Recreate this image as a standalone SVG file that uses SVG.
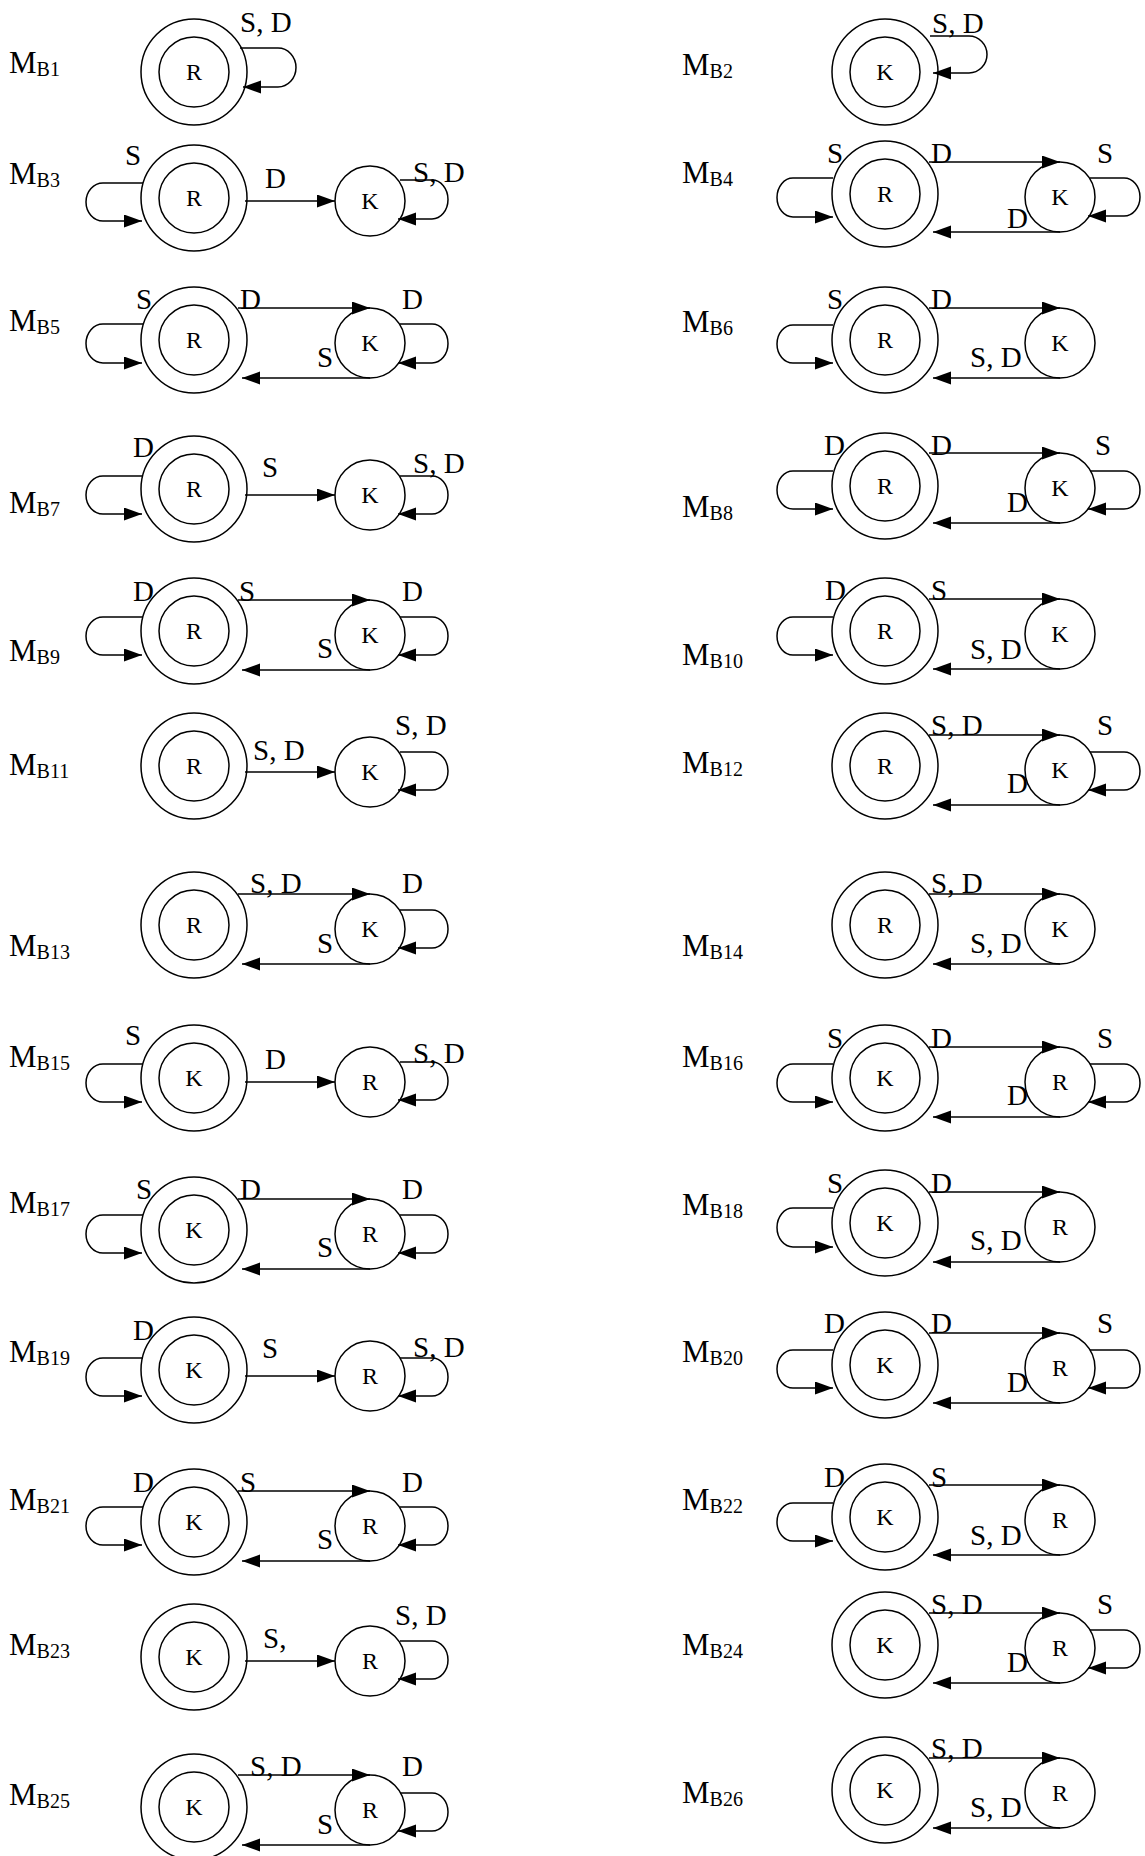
<svg xmlns="http://www.w3.org/2000/svg" width="1145" height="1856" viewBox="0 0 1145 1856">
<defs>
<marker id="ah" markerUnits="userSpaceOnUse" markerWidth="19" markerHeight="14" refX="18" refY="6.5" orient="auto"><path d="M0,0 L18,6.5 L0,13 z" fill="#000"/></marker>
<style>
.o{fill:none;stroke:#000;stroke-width:1.5}
.e{fill:none;stroke:#000;stroke-width:1.5;marker-end:url(#ah)}
text{font-family:"Liberation Serif","Times New Roman",serif;fill:#000}
.n{font-size:24px;text-anchor:middle}
.l{font-size:29px}
.m{font-size:31px}
.s{font-size:20px}
</style>
</defs>
<rect width="1145" height="1856" fill="#fff"/>

<g id="titles">
<text class="m" x="9" y="73">M<tspan class="s" dy="3">B1</tspan></text>
<text class="m" x="9" y="184">M<tspan class="s" dy="3">B3</tspan></text>
<text class="m" x="9" y="331">M<tspan class="s" dy="3">B5</tspan></text>
<text class="m" x="9" y="513">M<tspan class="s" dy="3">B7</tspan></text>
<text class="m" x="9" y="661">M<tspan class="s" dy="3">B9</tspan></text>
<text class="m" x="9" y="775">M<tspan class="s" dy="3">B11</tspan></text>
<text class="m" x="9" y="956">M<tspan class="s" dy="3">B13</tspan></text>
<text class="m" x="9" y="1067">M<tspan class="s" dy="3">B15</tspan></text>
<text class="m" x="9" y="1213">M<tspan class="s" dy="3">B17</tspan></text>
<text class="m" x="9" y="1362">M<tspan class="s" dy="3">B19</tspan></text>
<text class="m" x="9" y="1510">M<tspan class="s" dy="3">B21</tspan></text>
<text class="m" x="9" y="1655">M<tspan class="s" dy="3">B23</tspan></text>
<text class="m" x="9" y="1805">M<tspan class="s" dy="3">B25</tspan></text>
<text class="m" x="682" y="75">M<tspan class="s" dy="3">B2</tspan></text>
<text class="m" x="682" y="183">M<tspan class="s" dy="3">B4</tspan></text>
<text class="m" x="682" y="332">M<tspan class="s" dy="3">B6</tspan></text>
<text class="m" x="682" y="517">M<tspan class="s" dy="3">B8</tspan></text>
<text class="m" x="682" y="665">M<tspan class="s" dy="3">B10</tspan></text>
<text class="m" x="682" y="773">M<tspan class="s" dy="3">B12</tspan></text>
<text class="m" x="682" y="956">M<tspan class="s" dy="3">B14</tspan></text>
<text class="m" x="682" y="1067">M<tspan class="s" dy="3">B16</tspan></text>
<text class="m" x="682" y="1215">M<tspan class="s" dy="3">B18</tspan></text>
<text class="m" x="682" y="1362">M<tspan class="s" dy="3">B20</tspan></text>
<text class="m" x="682" y="1510">M<tspan class="s" dy="3">B22</tspan></text>
<text class="m" x="682" y="1655">M<tspan class="s" dy="3">B24</tspan></text>
<text class="m" x="682" y="1803">M<tspan class="s" dy="3">B26</tspan></text>
</g>

<g id="nodes">
<g id="MB1-R"><circle class="o" cx="194" cy="72" r="53"/><circle class="o" cx="194" cy="72" r="35"/><text class="n" x="194" y="80">R</text></g>
<g id="MB3-R"><circle class="o" cx="194" cy="198" r="53"/><circle class="o" cx="194" cy="198" r="35"/><text class="n" x="194" y="206">R</text></g>
<g id="MB3-K"><circle class="o" cx="370" cy="201" r="35"/><text class="n" x="370" y="209">K</text></g>
<g id="MB5-R"><circle class="o" cx="194" cy="340" r="53"/><circle class="o" cx="194" cy="340" r="35"/><text class="n" x="194" y="348">R</text></g>
<g id="MB5-K"><circle class="o" cx="370" cy="343" r="35"/><text class="n" x="370" y="351">K</text></g>
<g id="MB7-R"><circle class="o" cx="194" cy="489" r="53"/><circle class="o" cx="194" cy="489" r="35"/><text class="n" x="194" y="497">R</text></g>
<g id="MB7-K"><circle class="o" cx="370" cy="495" r="35"/><text class="n" x="370" y="503">K</text></g>
<g id="MB9-R"><circle class="o" cx="194" cy="631" r="53"/><circle class="o" cx="194" cy="631" r="35"/><text class="n" x="194" y="639">R</text></g>
<g id="MB9-K"><circle class="o" cx="370" cy="635" r="35"/><text class="n" x="370" y="643">K</text></g>
<g id="MB11-R"><circle class="o" cx="194" cy="766" r="53"/><circle class="o" cx="194" cy="766" r="35"/><text class="n" x="194" y="774">R</text></g>
<g id="MB11-K"><circle class="o" cx="370" cy="772" r="35"/><text class="n" x="370" y="780">K</text></g>
<g id="MB13-R"><circle class="o" cx="194" cy="925" r="53"/><circle class="o" cx="194" cy="925" r="35"/><text class="n" x="194" y="933">R</text></g>
<g id="MB13-K"><circle class="o" cx="370" cy="929" r="35"/><text class="n" x="370" y="937">K</text></g>
<g id="MB15-K"><circle class="o" cx="194" cy="1078" r="53"/><circle class="o" cx="194" cy="1078" r="35"/><text class="n" x="194" y="1086">K</text></g>
<g id="MB15-R"><circle class="o" cx="370" cy="1082" r="35"/><text class="n" x="370" y="1090">R</text></g>
<g id="MB17-K"><circle class="o" cx="194" cy="1230" r="53"/><circle class="o" cx="194" cy="1230" r="35"/><text class="n" x="194" y="1238">K</text></g>
<g id="MB17-R"><circle class="o" cx="370" cy="1234" r="35"/><text class="n" x="370" y="1242">R</text></g>
<g id="MB19-K"><circle class="o" cx="194" cy="1370" r="53"/><circle class="o" cx="194" cy="1370" r="35"/><text class="n" x="194" y="1378">K</text></g>
<g id="MB19-R"><circle class="o" cx="370" cy="1376" r="35"/><text class="n" x="370" y="1384">R</text></g>
<g id="MB21-K"><circle class="o" cx="194" cy="1522" r="53"/><circle class="o" cx="194" cy="1522" r="35"/><text class="n" x="194" y="1530">K</text></g>
<g id="MB21-R"><circle class="o" cx="370" cy="1526" r="35"/><text class="n" x="370" y="1534">R</text></g>
<g id="MB23-K"><circle class="o" cx="194" cy="1657" r="53"/><circle class="o" cx="194" cy="1657" r="35"/><text class="n" x="194" y="1665">K</text></g>
<g id="MB23-R"><circle class="o" cx="370" cy="1661" r="35"/><text class="n" x="370" y="1669">R</text></g>
<g id="MB25-K"><circle class="o" cx="194" cy="1807" r="53"/><circle class="o" cx="194" cy="1807" r="35"/><text class="n" x="194" y="1815">K</text></g>
<g id="MB25-R"><circle class="o" cx="370" cy="1810" r="35"/><text class="n" x="370" y="1818">R</text></g>

<g id="MB2-K"><circle class="o" cx="885" cy="72" r="53"/><circle class="o" cx="885" cy="72" r="35"/><text class="n" x="885" y="80">K</text></g>
<g id="MB4-R"><circle class="o" cx="885" cy="194" r="53"/><circle class="o" cx="885" cy="194" r="35"/><text class="n" x="885" y="202">R</text></g>
<g id="MB4-K"><circle class="o" cx="1060" cy="197" r="35"/><text class="n" x="1060" y="205">K</text></g>
<g id="MB6-R"><circle class="o" cx="885" cy="340" r="53"/><circle class="o" cx="885" cy="340" r="35"/><text class="n" x="885" y="348">R</text></g>
<g id="MB6-K"><circle class="o" cx="1060" cy="343" r="35"/><text class="n" x="1060" y="351">K</text></g>
<g id="MB8-R"><circle class="o" cx="885" cy="486" r="53"/><circle class="o" cx="885" cy="486" r="35"/><text class="n" x="885" y="494">R</text></g>
<g id="MB8-K"><circle class="o" cx="1060" cy="488" r="35"/><text class="n" x="1060" y="496">K</text></g>
<g id="MB10-R"><circle class="o" cx="885" cy="631" r="53"/><circle class="o" cx="885" cy="631" r="35"/><text class="n" x="885" y="639">R</text></g>
<g id="MB10-K"><circle class="o" cx="1060" cy="634" r="35"/><text class="n" x="1060" y="642">K</text></g>
<g id="MB12-R"><circle class="o" cx="885" cy="766" r="53"/><circle class="o" cx="885" cy="766" r="35"/><text class="n" x="885" y="774">R</text></g>
<g id="MB12-K"><circle class="o" cx="1060" cy="770" r="35"/><text class="n" x="1060" y="778">K</text></g>
<g id="MB14-R"><circle class="o" cx="885" cy="925" r="53"/><circle class="o" cx="885" cy="925" r="35"/><text class="n" x="885" y="933">R</text></g>
<g id="MB14-K"><circle class="o" cx="1060" cy="929" r="35"/><text class="n" x="1060" y="937">K</text></g>
<g id="MB16-K"><circle class="o" cx="885" cy="1078" r="53"/><circle class="o" cx="885" cy="1078" r="35"/><text class="n" x="885" y="1086">K</text></g>
<g id="MB16-R"><circle class="o" cx="1060" cy="1082" r="35"/><text class="n" x="1060" y="1090">R</text></g>
<g id="MB18-K"><circle class="o" cx="885" cy="1223" r="53"/><circle class="o" cx="885" cy="1223" r="35"/><text class="n" x="885" y="1231">K</text></g>
<g id="MB18-R"><circle class="o" cx="1060" cy="1227" r="35"/><text class="n" x="1060" y="1235">R</text></g>
<g id="MB20-K"><circle class="o" cx="885" cy="1365" r="53"/><circle class="o" cx="885" cy="1365" r="35"/><text class="n" x="885" y="1373">K</text></g>
<g id="MB20-R"><circle class="o" cx="1060" cy="1368" r="35"/><text class="n" x="1060" y="1376">R</text></g>
<g id="MB22-K"><circle class="o" cx="885" cy="1517" r="53"/><circle class="o" cx="885" cy="1517" r="35"/><text class="n" x="885" y="1525">K</text></g>
<g id="MB22-R"><circle class="o" cx="1060" cy="1520" r="35"/><text class="n" x="1060" y="1528">R</text></g>
<g id="MB24-K"><circle class="o" cx="885" cy="1645" r="53"/><circle class="o" cx="885" cy="1645" r="35"/><text class="n" x="885" y="1653">K</text></g>
<g id="MB24-R"><circle class="o" cx="1060" cy="1648" r="35"/><text class="n" x="1060" y="1656">R</text></g>
<g id="MB26-K"><circle class="o" cx="885" cy="1790" r="53"/><circle class="o" cx="885" cy="1790" r="35"/><text class="n" x="885" y="1798">K</text></g>
<g id="MB26-R"><circle class="o" cx="1060" cy="1793" r="35"/><text class="n" x="1060" y="1801">R</text></g>
</g>

<g id="connectors">
<path class="e" d="M240,48 H278 A18,19.5 0 0 1 278,87 H243"/>
<path class="e" d="M245,201 H335"/>
<path class="e" d="M143,183 H103 A17,19 0 0 0 103,221 H142"/>
<path class="e" d="M400,180 H432 A16,19.5 0 0 1 432,219 H398"/>
<path class="e" d="M238,308 H370"/>
<path class="e" d="M370,378 H242"/>
<path class="e" d="M143,324 H103 A17,19.5 0 0 0 103,363 H142"/>
<path class="e" d="M400,324 H432 A16,19.5 0 0 1 432,363 H398"/>
<path class="e" d="M245,495 H335"/>
<path class="e" d="M143,476 H103 A17,19 0 0 0 103,514 H142"/>
<path class="e" d="M400,476 H432 A16,19 0 0 1 432,514 H398"/>
<path class="e" d="M238,600 H370"/>
<path class="e" d="M370,670 H242"/>
<path class="e" d="M143,617 H103 A17,19 0 0 0 103,655 H142"/>
<path class="e" d="M400,617 H432 A16,19 0 0 1 432,655 H398"/>
<path class="e" d="M245,772 H335"/>
<path class="e" d="M400,752 H432 A16,19 0 0 1 432,790 H398"/>
<path class="e" d="M238,894 H370"/>
<path class="e" d="M370,964 H242"/>
<path class="e" d="M400,910 H432 A16,19 0 0 1 432,948 H398"/>
<path class="e" d="M245,1082 H335"/>
<path class="e" d="M143,1064 H103 A17,19 0 0 0 103,1102 H142"/>
<path class="e" d="M400,1062 H432 A16,19 0 0 1 432,1100 H398"/>
<path class="e" d="M238,1199 H370"/>
<path class="e" d="M370,1269 H242"/>
<path class="e" d="M143,1215 H103 A17,19 0 0 0 103,1253 H142"/>
<path class="e" d="M400,1215 H432 A16,19 0 0 1 432,1253 H398"/>
<path class="e" d="M245,1376 H335"/>
<path class="e" d="M143,1358 H103 A17,19 0 0 0 103,1396 H142"/>
<path class="e" d="M400,1358 H432 A16,19 0 0 1 432,1396 H398"/>
<path class="e" d="M238,1491 H370"/>
<path class="e" d="M370,1561 H242"/>
<path class="e" d="M143,1507 H103 A17,19 0 0 0 103,1545 H142"/>
<path class="e" d="M400,1507 H432 A16,19 0 0 1 432,1545 H398"/>
<path class="e" d="M245,1661 H335"/>
<path class="e" d="M400,1641 H432 A16,19 0 0 1 432,1679 H398"/>
<path class="e" d="M238,1775 H370"/>
<path class="e" d="M370,1845 H242"/>
<path class="e" d="M400,1793 H432 A16,19 0 0 1 432,1831 H398"/>

<path class="e" d="M930,36 H969 A18,18.5 0 0 1 969,73 H933"/>
<path class="e" d="M929,162 H1060"/>
<path class="e" d="M1060,232 H933"/>
<path class="e" d="M833,178 H793 A16,19.5 0 0 0 793,217 H833"/>
<path class="e" d="M1090,178 H1124 A16,19 0 0 1 1124,216 H1088"/>
<path class="e" d="M929,308 H1060"/>
<path class="e" d="M1060,378 H933"/>
<path class="e" d="M833,325 H793 A16,19 0 0 0 793,363 H833"/>
<path class="e" d="M929,453 H1060"/>
<path class="e" d="M1060,523 H933"/>
<path class="e" d="M833,471 H793 A16,19 0 0 0 793,509 H833"/>
<path class="e" d="M1090,471 H1124 A16,19 0 0 1 1124,509 H1088"/>
<path class="e" d="M929,599 H1060"/>
<path class="e" d="M1060,669 H933"/>
<path class="e" d="M833,617 H793 A16,19 0 0 0 793,655 H833"/>
<path class="e" d="M929,735 H1060"/>
<path class="e" d="M1060,805 H933"/>
<path class="e" d="M1090,752 H1124 A16,19 0 0 1 1124,790 H1088"/>
<path class="e" d="M929,894 H1060"/>
<path class="e" d="M1060,964 H933"/>
<path class="e" d="M929,1047 H1060"/>
<path class="e" d="M1060,1117 H933"/>
<path class="e" d="M833,1064 H793 A16,19 0 0 0 793,1102 H833"/>
<path class="e" d="M1090,1064 H1124 A16,19 0 0 1 1124,1102 H1088"/>
<path class="e" d="M929,1192 H1060"/>
<path class="e" d="M1060,1262 H933"/>
<path class="e" d="M833,1208 H793 A16,19.5 0 0 0 793,1247 H833"/>
<path class="e" d="M929,1333 H1060"/>
<path class="e" d="M1060,1403 H933"/>
<path class="e" d="M833,1350 H793 A16,19 0 0 0 793,1388 H833"/>
<path class="e" d="M1090,1350 H1124 A16,19 0 0 1 1124,1388 H1088"/>
<path class="e" d="M929,1485 H1060"/>
<path class="e" d="M1060,1555 H933"/>
<path class="e" d="M833,1503 H793 A16,19 0 0 0 793,1541 H833"/>
<path class="e" d="M929,1613 H1060"/>
<path class="e" d="M1060,1683 H933"/>
<path class="e" d="M1090,1630 H1124 A16,19 0 0 1 1124,1668 H1088"/>
<path class="e" d="M929,1758 H1060"/>
<path class="e" d="M1060,1828 H933"/>
</g>

<g id="edge-labels" class="l">
<text class="l" x="240" y="32">S, D</text>
<text class="l" x="125" y="165">S</text><text class="l" x="265" y="188">D</text><text class="l" x="413" y="182">S, D</text>
<text class="l" x="136" y="309">S</text><text class="l" x="240" y="309">D</text><text class="l" x="402" y="309">D</text><text class="l" x="317" y="367">S</text>
<text class="l" x="133" y="457">D</text><text class="l" x="262" y="477">S</text><text class="l" x="413" y="473">S, D</text>
<text class="l" x="133" y="601">D</text><text class="l" x="239" y="601">S</text><text class="l" x="402" y="601">D</text><text class="l" x="317" y="658">S</text>
<text class="l" x="253" y="760">S, D</text><text class="l" x="395" y="735">S, D</text>
<text class="l" x="250" y="893">S, D</text><text class="l" x="402" y="893">D</text><text class="l" x="317" y="953">S</text>
<text class="l" x="125" y="1045">S</text><text class="l" x="265" y="1069">D</text><text class="l" x="413" y="1063">S, D</text>
<text class="l" x="136" y="1199">S</text><text class="l" x="240" y="1199">D</text><text class="l" x="402" y="1199">D</text><text class="l" x="317" y="1257">S</text>
<text class="l" x="133" y="1340">D</text><text class="l" x="262" y="1358">S</text><text class="l" x="413" y="1357">S, D</text>
<text class="l" x="133" y="1492">D</text><text class="l" x="240" y="1492">S</text><text class="l" x="402" y="1492">D</text><text class="l" x="317" y="1549">S</text>
<text class="l" x="263" y="1648">S,</text><text class="l" x="395" y="1625">S, D</text>
<text class="l" x="250" y="1776">S, D</text><text class="l" x="402" y="1776">D</text><text class="l" x="317" y="1834">S</text>

<text class="l" x="932" y="33">S, D</text>
<text class="l" x="827" y="163">S</text><text class="l" x="931" y="163">D</text><text class="l" x="1097" y="163">S</text><text class="l" x="1007" y="228">D</text>
<text class="l" x="827" y="309">S</text><text class="l" x="931" y="309">D</text><text class="l" x="970" y="367">S, D</text>
<text class="l" x="824" y="455">D</text><text class="l" x="931" y="455">D</text><text class="l" x="1095" y="455">S</text><text class="l" x="1007" y="512">D</text>
<text class="l" x="825" y="600">D</text><text class="l" x="931" y="600">S</text><text class="l" x="970" y="659">S, D</text>
<text class="l" x="931" y="735">S, D</text><text class="l" x="1097" y="735">S</text><text class="l" x="1007" y="793">D</text>
<text class="l" x="931" y="893">S, D</text><text class="l" x="970" y="953">S, D</text>
<text class="l" x="827" y="1048">S</text><text class="l" x="931" y="1048">D</text><text class="l" x="1097" y="1048">S</text><text class="l" x="1007" y="1105">D</text>
<text class="l" x="827" y="1193">S</text><text class="l" x="931" y="1193">D</text><text class="l" x="970" y="1250">S, D</text>
<text class="l" x="824" y="1333">D</text><text class="l" x="931" y="1333">D</text><text class="l" x="1097" y="1333">S</text><text class="l" x="1007" y="1392">D</text>
<text class="l" x="824" y="1487">D</text><text class="l" x="931" y="1487">S</text><text class="l" x="970" y="1545">S, D</text>
<text class="l" x="931" y="1614">S, D</text><text class="l" x="1097" y="1614">S</text><text class="l" x="1007" y="1672">D</text>
<text class="l" x="931" y="1758">S, D</text><text class="l" x="970" y="1817">S, D</text>
</g>
</svg>
